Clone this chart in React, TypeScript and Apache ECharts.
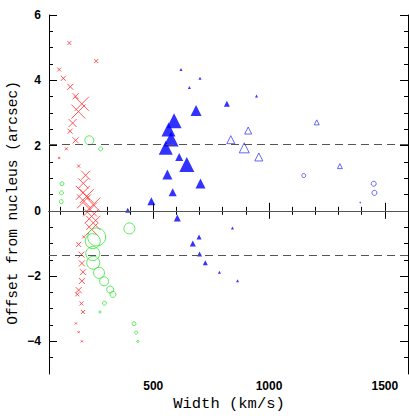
import React, { useEffect, useRef } from "react";
import * as echarts from "echarts";

// [width km/s, offset arcsec, marker size px]
const redCrosses: number[][] = [
  [138, 5.14, 4], [254, 4.59, 4], [94, 4.33, 4], [112, 4.06, 5], [142, 3.8, 6],
  [165, 3.51, 6], [192, 3.28, 14], [177, 3.04, 14], [152, 2.69, 8], [141, 2.44, 5],
  [165, 2.16, 6], [125, 1.9, 3], [94, 1.62, 2], [178, 1.37, 3], [208, 1.09, 9],
  [198, 0.84, 10], [196, 0.55, 14], [213, 0.45, 14], [201, 0.29, 14], [241, 0.19, 14],
  [227, 0.04, 14], [234, -0.17, 14], [241, -0.37, 14], [234, -0.57, 12], [200, -0.8, 3],
  [178, -1.03, 5], [190, -1.34, 6], [192, -1.61, 6], [197, -1.88, 6], [192, -2.15, 6],
  [178, -2.43, 6], [172, -2.56, 4], [190, -2.84, 4], [197, -3.1, 4], [166, -3.45, 2],
  [178, -3.72, 2], [192, -4.0, 2],
];

const greenCircles: number[][] = [
  [224, 2.16, 9], [273, 1.9, 4], [106, 0.83, 4], [104, 0.55, 4], [103, 0.28, 4],
  [397, -0.54, 11], [256, -0.8, 18], [239, -0.93, 15], [239, -1.31, 14], [241, -1.59, 13],
  [266, -1.9, 11], [288, -2.16, 9], [314, -2.41, 7], [326, -2.56, 6], [289, -2.83, 4],
  [270, -3.1, 2], [417, -3.46, 4], [426, -3.73, 3], [433, -4.0, 2],
];

const blueFilled: number[][] = [
  [620, 4.33, 3], [702, 4.06, 3], [656, 3.78, 3], [946, 3.52, 3], [818, 3.28, 6],
  [685, 3.07, 11], [590, 2.76, 15], [566, 2.49, 14], [577, 2.2, 15], [554, 1.93, 14],
  [612, 1.65, 8], [645, 1.42, 15], [561, 1.11, 10], [704, 0.84, 10], [584, 0.57, 8],
  [492, 0.29, 8], [390, 0.02, 5], [604, -0.22, 7], [842, -0.53, 3], [698, -0.8, 5],
  [671, -1.0, 6], [700, -1.32, 5], [725, -1.59, 5], [786, -1.88, 3], [864, -2.14, 3],
];

const blueOpenTriangles: number[][] = [
  [835, 2.18, 8], [910, 2.46, 7], [893, 1.93, 10], [956, 1.65, 8],
  [1206, 2.71, 5], [1306, 1.37, 5], [1394, 0.26, 1],
];

const blueOpenCircles: number[][] = [
  [1150, 1.08, 4], [1452, 0.83, 5], [1455, 0.55, 5],
];

const refLines = { solid: 0, upperDashed: 2.03, lowerDashed: -1.35 };

const xMajor = [500, 1000, 1500];
const xMinor = [100, 200, 300, 400, 600, 700, 800, 900, 1100, 1200, 1300, 1400];
const yMajor = [-4, -2, 0, 2, 4, 6];
const yMinor = [-4.5, -3.5, -3, -2.5, -1.5, -1, -0.5, 0.5, 1, 1.5, 2.5, 3, 3.5, 4.5, 5, 5.5];

const xTitle = "Width (km/s)";
const yTitle = "Offset from nucleus (arcsec)";

const X_MIN = 50, X_MAX = 1600, Y_MIN = -5, Y_MAX = 6;

export default function App() {
  const ref = useRef<HTMLDivElement>(null);
  useEffect(() => {
    if (!ref.current) return;
    const chart = echarts.init(ref.current, undefined, { renderer: "svg" });
    const gridRect = { left: 49, right: 1, top: 15, bottom: 42 };
    const lbl = { fontFamily: "Liberation Sans", fontSize: 12, fontWeight: "bold", color: "#000" };
    const line = { show: true, lineStyle: { color: "#000", width: 1 } };
    const fmt = (v: number) => String(v).replace("-", "\u2212");
    const mkX = (grid: number, pos: string, vals: number[], len: number, labels: boolean, showLine: boolean) => ({
      type: "value", gridIndex: grid, position: pos, min: X_MIN, max: X_MAX,
      axisLine: showLine ? line : { show: false },
      axisTick: { show: true, inside: true, length: len, customValues: vals, lineStyle: { color: "#000", width: 1 } },
      axisLabel: labels
        ? { show: true, customValues: vals, margin: 6, ...lbl, formatter: fmt }
        : { show: false },
      splitLine: { show: false },
    });
    const mkY = (grid: number, pos: string, vals: number[], len: number, labels: boolean, showLine: boolean) => ({
      type: "value", gridIndex: grid, position: pos, min: Y_MIN, max: Y_MAX,
      axisLine: showLine ? line : { show: false },
      axisTick: { show: true, inside: true, length: len, customValues: vals, lineStyle: { color: "#000", width: 1 } },
      axisLabel: labels
        ? { show: true, customValues: vals, margin: 8, ...lbl, formatter: fmt }
        : { show: false },
      splitLine: { show: false },
    });
    const sizeFn = (v: number[]) => v[2];
    chart.setOption({
      animation: false,
      backgroundColor: "#fff",
      grid: [{ ...gridRect }, { ...gridRect }],
      xAxis: [
        mkX(0, "bottom", xMajor, 8, true, true),
        mkX(0, "top", xMajor, 8, false, true),
        mkX(1, "bottom", xMinor, 4, false, false),
        mkX(1, "top", xMinor, 4, false, false),
      ],
      yAxis: [
        mkY(0, "left", yMajor, 8, true, true),
        mkY(0, "right", yMajor, 8, false, true),
        mkY(1, "left", yMinor, 4, false, false),
        mkY(1, "right", yMinor, 4, false, false),
      ],
      graphic: [
        {
          type: "text", x: 13, y: 203, rotation: Math.PI / 2,
          style: { text: yTitle, textAlign: "center", textVerticalAlign: "middle",
            font: '14.5px "Liberation Mono"', fill: "#000" },
        },
        {
          type: "text", x: 229, y: 404,
          style: { text: xTitle, textAlign: "center", textVerticalAlign: "middle",
            font: '15.5px "Liberation Mono"', fill: "#000" },
        },
      ],
      series: [
        {
          type: "scatter", xAxisIndex: 0, yAxisIndex: 0, data: [], silent: true,
          markLine: {
            silent: true, symbol: ["none", "none"], label: { show: false },
            data: [
              { yAxis: refLines.solid, lineStyle: { color: "#555", width: 1.2, type: "solid" } },
              { yAxis: refLines.upperDashed, lineStyle: { color: "#555", width: 1.2, type: [8, 5] } },
              { yAxis: refLines.lowerDashed, lineStyle: { color: "#555", width: 1.2, type: [8, 5] } },
            ],
          },
        },
        {
          type: "scatter", xAxisIndex: 0, yAxisIndex: 0, data: redCrosses,
          symbol: "path://M0,0L10,10M10,0L0,10", symbolSize: sizeFn,
          itemStyle: { color: "rgba(0,0,0,0)", borderColor: "#ff3030", borderWidth: 1 },
        },
        {
          type: "scatter", xAxisIndex: 0, yAxisIndex: 0, data: greenCircles,
          symbol: "circle", symbolSize: sizeFn,
          itemStyle: { color: "rgba(0,0,0,0)", borderColor: "#33e633", borderWidth: 1 },
        },
        {
          type: "scatter", xAxisIndex: 0, yAxisIndex: 0, data: blueFilled,
          symbol: "triangle", symbolSize: sizeFn,
          itemStyle: { color: "#0000ff" },
        },
        {
          type: "scatter", xAxisIndex: 0, yAxisIndex: 0, data: blueOpenTriangles,
          symbol: "triangle", symbolSize: sizeFn,
          itemStyle: { color: "rgba(0,0,0,0)", borderColor: "#4040ff", borderWidth: 1 },
        },
        {
          type: "scatter", xAxisIndex: 0, yAxisIndex: 0, data: blueOpenCircles,
          symbol: "circle", symbolSize: sizeFn,
          itemStyle: { color: "rgba(0,0,0,0)", borderColor: "#4040ff", borderWidth: 1 },
        },
      ],
    });
    return () => chart.dispose();
  }, []);
  return <div ref={ref} style={{ position: "fixed", left: 0, top: 0, width: 409, height: 416 }} />;
}
